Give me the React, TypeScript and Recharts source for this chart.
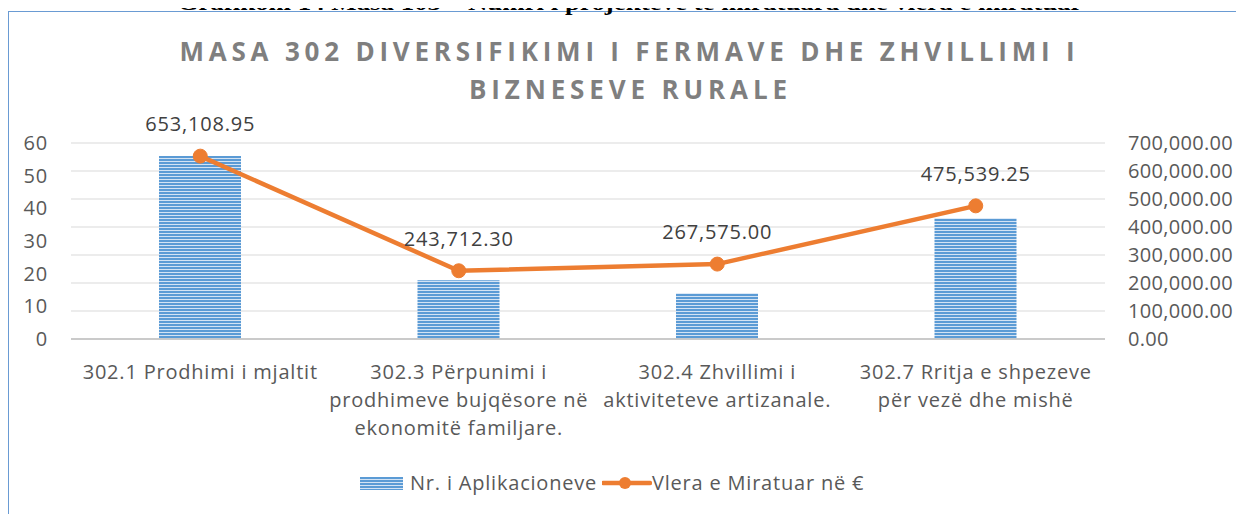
import React from 'react';
import { ComposedChart, Bar, Line, XAxis, YAxis, CartesianGrid, Legend, LabelList } from 'recharts';

const FONT = "'Open Sans', sans-serif";
const TEXT = '#595959';

const categories = [
  '302.1 Prodhimi i mjaltit',
  '302.3 Përpunimi i prodhimeve bujqësore në ekonomitë familjare.',
  '302.4 Zhvillimi i aktiviteteve artizanale.',
  '302.7 Rritja e shpezeve për vezë dhe mishë',
];
// same line breaks as the original axis labels
const categoryLines = [
  ['302.1 Prodhimi i mjaltit'],
  ['302.3 Përpunimi i', 'prodhimeve bujqësore në', 'ekonomitë familjare.'],
  ['302.4 Zhvillimi i', 'aktiviteteve artizanale.'],
  ['302.7 Rritja e shpezeve', 'për vezë dhe mishë'],
];
const applications = [56, 18, 14, 37];
const approvedValues = [653108.95, 243712.3, 267575.0, 475539.25];
const leftTicks = [0, 10, 20, 30, 40, 50, 60];
const rightTicks = [0, 100000, 200000, 300000, 400000, 500000, 600000, 700000];

const data = categories.map((name, i) => ({
  name,
  apps: applications[i],
  value: approvedValues[i],
}));

const money = (v: number) =>
  v.toLocaleString('en-US', { minimumFractionDigits: 2, maximumFractionDigits: 2 });

const CategoryTick = (props: any) => {
  const { x, y, index } = props;
  const lines = categoryLines[index] || [];
  return (
    <text x={x} y={y} textAnchor="middle" fill={TEXT} fontFamily={FONT} fontSize={20} letterSpacing={0.8}>
      {lines.map((l, i) => (
        <tspan key={i} x={x} y={y + 40 + i * 28}>
          {l}
        </tspan>
      ))}
    </text>
  );
};

const ValueLabel = (props: any) => {
  const { x, y, value } = props;
  return (
    <text x={x} y={y - 25} textAnchor="middle" fill="#404040" fontFamily={FONT} fontSize={20} letterSpacing={0.8}>
      {money(value)}
    </text>
  );
};

const LegendContent = () => (
  <div style={{ position: 'relative', height: 24, width: '100%', fontFamily: FONT, fontSize: 20, color: TEXT }}>
    <svg width={43} height={13} style={{ position: 'absolute', left: 351, top: 6 }}>
      <rect width={43} height={13} fill="url(#hatch)" />
    </svg>
    <span style={{ position: 'absolute', left: 401, top: 0, lineHeight: '24px', whiteSpace: 'nowrap', letterSpacing: 0.8 }}>
      Nr. i Aplikacioneve
    </span>
    <svg width={50} height={24} style={{ position: 'absolute', left: 593, top: 0 }}>
      <line x1={1} y1={12} x2={48} y2={12} stroke="#ED7D31" strokeWidth={4.5} strokeLinecap="round" />
      <circle cx={23} cy={12} r={6} fill="#ED7D31" />
    </svg>
    <span style={{ position: 'absolute', left: 643, top: 0, lineHeight: '24px', whiteSpace: 'nowrap', letterSpacing: 0.8 }}>
      Vlera e Miratuar në €
    </span>
  </div>
);

export default function App() {
  return (
    <div style={{ position: 'relative', paddingTop: 3 }}>
      <svg width={0} height={0} style={{ position: 'absolute' }}>
        <defs>
          <pattern id="hatch" patternUnits="userSpaceOnUse" width={6} height={3}>
            <rect width={6} height={3} fill="#D3E3F4" />
            <rect width={6} height={2} fill="#5B9BD5" />
          </pattern>
        </defs>
      </svg>
      <div
        style={{
          position: 'relative',
          width: 1240,
          height: 520,
          borderLeft: '1px solid #6A9BD3',
          borderTop: '1px solid #6A9BD3',
        }}
      >
        <ComposedChart width={1240} height={500} data={data} margin={{ top: 131, right: 0, bottom: 17, left: 0 }}>
          <CartesianGrid yAxisId="right" vertical={false} stroke="#D9D9D9" />
          <XAxis
            dataKey="name"
            height={132}
            interval={0}
            tickLine={false}
            tickSize={0}
            tickMargin={0}
            axisLine={{ stroke: '#BFBFBF', strokeWidth: 1.5 }}
            tick={<CategoryTick />}
          />
          <YAxis
            yAxisId="left"
            orientation="left"
            width={62}
            domain={[0, 60]}
            ticks={leftTicks}
            interval={0}
            axisLine={false}
            tickLine={false}
            tickSize={0}
            tickMargin={23}
            tick={{ fill: TEXT, fontSize: 20, fontFamily: FONT, letterSpacing: 0.8 }}
          />
          <YAxis
            yAxisId="right"
            orientation="right"
            width={144}
            domain={[0, 700000]}
            ticks={rightTicks}
            interval={0}
            tickFormatter={money}
            axisLine={false}
            tickLine={false}
            tickSize={0}
            tickMargin={23}
            tick={{ fill: TEXT, fontSize: 20, fontFamily: FONT, letterSpacing: 0.3 }}
          />
          <Bar
            yAxisId="left"
            dataKey="apps"
            name="Nr. i Aplikacioneve"
            fill="url(#hatch)"
            barSize={82}
            isAnimationActive={false}
          />
          <Line
            yAxisId="right"
            type="linear"
            dataKey="value"
            name="Vlera e Miratuar në €"
            stroke="#ED7D31"
            strokeWidth={4.5}
            dot={{ r: 7, fill: '#ED7D31', stroke: '#ED7D31', strokeWidth: 1 }}
            activeDot={false}
            isAnimationActive={false}
          >
            <LabelList dataKey="value" content={<ValueLabel />} />
          </Line>
          <Legend verticalAlign="bottom" content={<LegendContent />} />
        </ComposedChart>
      </div>
      <svg
        width={1244}
        height={120}
        style={{ position: 'absolute', left: -8, top: -8, pointerEvents: 'none' }}
      >
        <text
          x={630}
          y={10}
          textAnchor="middle"
          fontFamily="'Liberation Serif', serif"
          fontWeight="bold"
          fontSize={21}
          textLength={905}
          lengthAdjust="spacingAndGlyphs"
        >
          Grafikoni  14 Masa 103 – Numri i projekteve te miratuara  dhe vlera e miratuar
        </text>
        <text
          x={627}
          y={61}
          textAnchor="middle"
          fontFamily={FONT}
          fontWeight="bold"
          fontSize={26}
          fill="#7F7F7F"
          textLength={895}
          lengthAdjust="spacing"
        >
          MASA 302 DIVERSIFIKIMI I FERMAVE DHE ZHVILLIMI I
        </text>
        <text
          x={628}
          y={99}
          textAnchor="middle"
          fontFamily={FONT}
          fontWeight="bold"
          fontSize={26}
          fill="#7F7F7F"
          textLength={318}
          lengthAdjust="spacing"
        >
          BIZNESEVE RURALE
        </text>
      </svg>
    </div>
  );
}
